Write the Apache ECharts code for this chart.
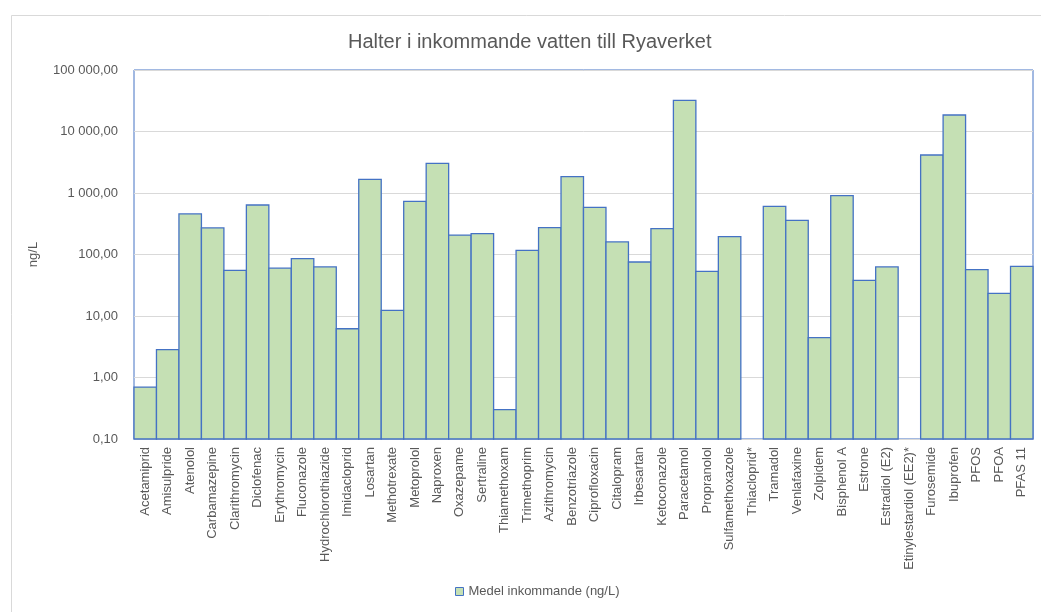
<!DOCTYPE html>
<html><head><meta charset="utf-8">
<script src="https://cdn.jsdelivr.net/npm/echarts@6/dist/echarts.min.js"></script>
<style>html,body{margin:0;padding:0;background:#fff}#c{width:1041px;height:612px}</style>
</head><body><div id="c"></div>
<script>
const categories = ["Acetamiprid","Amisulpride","Atenolol","Carbamazepine","Clarithromycin","Diclofenac","Erythromycin","Fluconazole","Hydrochlorothiazide","Imidacloprid","Losartan","Methotrexate","Metoprolol","Naproxen","Oxazepame","Sertraline","Thiamethoxam","Trimethoprim","Azithromycin","Benzotriazole","Ciprofloxacin","Citalopram","Irbesartan","Ketoconazole","Paracetamol","Propranolol","Sulfamethoxazole","Thiacloprid*","Tramadol","Venlafaxine","Zolpidem","Bisphenol A","Estrone","Estradiol (E2)","Etinylestardiol (EE2)*","Furosemide","Ibuprofen","PFOS","PFOA","PFAS 11"];
const medelInkommande = [0.70,2.83,456,270,55,638,60,85.5,62.7,6.2,1663,12.3,730,3030,207,218,0.30,117,273,1841,583,160,75.5,263,32060,53,195,null,605,358,4.44,904,37.9,62.7,null,4150,18540,56.6,23.3,64.1];
const yMin = 0.1, yMax = 100000;
const seriesName = "Medel inkommande (ng/L)";

function fmt(v){
  const s = v.toFixed(2).split('.');
  const int = s[0].replace(/\B(?=(\d{3})+(?!\d))/g,' ');
  return int + ',' + s[1];
}
const chart = echarts.init(document.getElementById('c'));
const font = "Liberation Sans";
const fill = '#C5E0B4', edge = '#4472C4';
chart.setOption({
  backgroundColor:'#fff',
  animation:false,
  graphic:[{type:'rect',left:9,top:13,shape:{width:1100,height:700},
    style:{fill:'none',stroke:'#D9D9D9',lineWidth:1},silent:true,z:-1}],
  title:{text:"Halter i inkommande vatten till Ryaverket",left:343,top:27,
    textStyle:{fontFamily:font,fontSize:20,fontWeight:'normal',color:'#595959'}},
  grid:{left:134,right:8,top:70,bottom:173,show:true,borderColor:edge,borderWidth:1},
  legend:{bottom:9,left:450,itemWidth:8,itemHeight:8,itemGap:5,
    textStyle:{fontFamily:font,fontSize:13,color:'#595959'},
    data:[{name:seriesName,icon:'rect',itemStyle:{color:fill,borderColor:edge,borderWidth:1}}]},
  xAxis:{type:'category',data:categories,
    axisLine:{show:true,lineStyle:{color:'#D9D9D9'}},axisTick:{show:false},
    axisLabel:{interval:0,rotate:90,fontFamily:font,fontSize:13,color:'#595959',margin:8}},
  yAxis:{type:'log',logBase:10,min:yMin,max:yMax,
    name:'ng/L',nameLocation:'middle',nameGap:94,nameRotate:90,
    nameTextStyle:{fontFamily:font,fontSize:13,color:'#595959'},
    axisLine:{show:false},axisTick:{show:false},
    splitLine:{lineStyle:{color:'#D9D9D9'}},
    axisLabel:{fontFamily:font,fontSize:13,color:'#595959',margin:16,formatter:v=>fmt(v)}},
  series:[{name:seriesName,type:'custom',
    itemStyle:{color:fill,borderColor:edge,borderWidth:1},
    data:medelInkommande.map((v,i)=>[i,v]).filter(d=>d[1]!=null),
    renderItem:function(params,api){
      const x=api.value(0), v=api.value(1);
      const top=api.coord([x,v]);
      const base=api.coord([x,yMin]);
      const w=api.size([1,0])[0];
      return {type:'rect',
        shape:{x:top[0]-w/2,y:top[1],width:w,height:base[1]-top[1]},
        style:{fill:fill,stroke:edge,lineWidth:1.3}};
    }}]
});
</script></body></html>
